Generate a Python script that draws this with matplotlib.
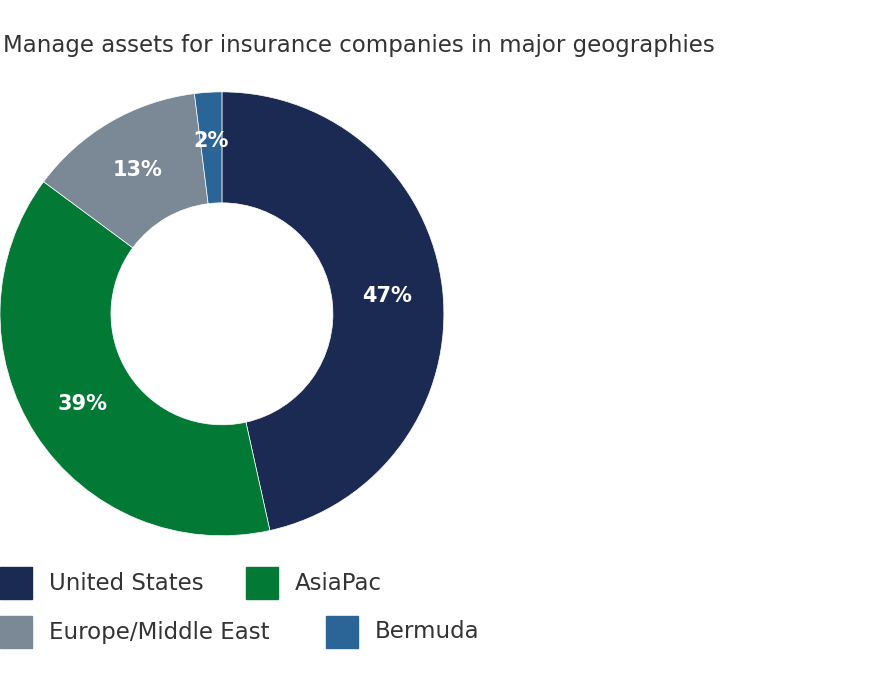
import matplotlib
matplotlib.use("Agg")
import matplotlib.pyplot as plt
from matplotlib.patches import Rectangle
import numpy as np

categories = ["United States", "AsiaPac", "Europe/Middle East", "Bermuda"]
values = [47, 39, 13, 2]
labels = ["47%", "39%", "13%", "2%"]
colors = ["#1b2a52", "#027a36", "#7b8895", "#2b6496"]

fig = plt.figure(figsize=(8.86, 6.8), dpi=100)
ax = fig.add_axes([0.0, 0.212, 0.501, 0.653])
wedges, _ = ax.pie(values, colors=colors, startangle=90, counterclock=False,
                   wedgeprops=dict(width=0.5, edgecolor="white", linewidth=0.5))
total = sum(values)
ang = 90
for v, lab in zip(values, labels):
    mid = ang - v / total * 360 / 2
    ang -= v / total * 360
    r = 0.75 if v > 5 else 0.78
    ax.text(r * np.cos(np.radians(mid)), r * np.sin(np.radians(mid)), lab,
            ha="center", va="center", color="white", fontsize=15, fontweight="bold")
ax.set_aspect("equal")
ax.set_xlim(-1, 1)
ax.set_ylim(-1, 1)
ax.axis("off")

fig.text(0.003, 0.933, "Manage assets for insurance companies in major geographies",
         fontsize=16.5, color="#333333", va="center")

pos = [(0.0, 583), (0.278, 583), (0.0, 632), (0.368, 632)]
for (x, y), c, cat in zip(pos, colors, categories):
    yf = (680 - y) / 680
    fig.patches.append(Rectangle((x, yf - 0.023), 0.036, 0.046, color=c,
                                 transform=fig.transFigure, figure=fig))
    fig.text(x + 0.055, yf, cat, fontsize=16.5, color="#333333", va="center")

fig.savefig("out.png", dpi=100)
